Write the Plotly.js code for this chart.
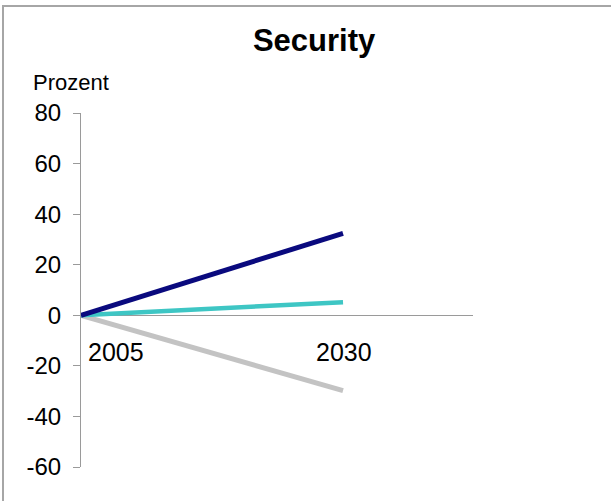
<!DOCTYPE html>
<html>
<head>
<meta charset="utf-8">
<script src="https://cdn.plot.ly/plotly-3.0.1.min.js"></script>
<style>
  html, body { margin: 0; padding: 0; background: #ffffff; }
  #wrap { position: relative; width: 611px; height: 501px; overflow: hidden; }
  #chart { position: absolute; left: 0; top: 0; width: 611px; height: 501px; }
  #frame {
    position: absolute; left: 2px; top: 5px; right: -4px; bottom: -4px;
    border-top: 2px solid #a6a6a6; border-left: 2px solid #a6a6a6;
    pointer-events: none;
  }
</style>
</head>
<body>
<div id="wrap">
  <div id="chart"></div>
  <div id="frame"></div>
</div>
<script>
// Change relative to 2005, in percent
const years = [2005, 2030];
const yearLabels = ['2005', '2030'];
const seriesHigh = [0, 32.4];
const seriesMid = [0, 5.2];
const seriesLow = [0, -29.8];

const yTicks = [-60, -40, -20, 0, 20, 40, 60, 80];

const font = 'Liberation Sans, Arial, sans-serif';

const traces = [
  { x: years, y: seriesLow, mode: 'lines', line: { color: '#c3c3c3', width: 5 }, hoverinfo: 'skip' },
  { x: years, y: seriesMid, mode: 'lines', line: { color: '#3ec6c4', width: 4.5 }, hoverinfo: 'skip' },
  { x: years, y: seriesHigh, mode: 'lines', line: { color: '#0a0a7e', width: 5 }, hoverinfo: 'skip' }
];

const annotations = yearLabels.map((t, i) => ({
  x: years[i], y: 0, xref: 'x', yref: 'y', text: t, showarrow: false,
  xanchor: 'center', yanchor: 'middle',
  xshift: i === 0 ? 35 : 1, yshift: -37,
  font: { family: font, size: 25, color: '#000000' }
}));

annotations.push({
  xref: 'paper', yref: 'paper', x: -0.127, y: 1.085,
  xanchor: 'left', yanchor: 'middle', text: 'Prozent', showarrow: false,
  font: { family: font, size: 22, color: '#000000' }
});

const layout = {
  width: 611, height: 501,
  margin: { l: 81, r: 138, t: 113, b: 34 },
  paper_bgcolor: '#ffffff', plot_bgcolor: '#ffffff',
  showlegend: false,
  title: {
    text: '<b>Security</b>',
    x: 0.514, xref: 'container', xanchor: 'center',
    y: 0.92, yref: 'container', yanchor: 'middle',
    font: { family: font, size: 31, color: '#000000' }
  },
  xaxis: {
    range: [2005, 2042.4], showline: false, showgrid: false, zeroline: false,
    showticklabels: false, ticks: '', fixedrange: true
  },
  yaxis: {
    range: [-60, 80], tickvals: yTicks, ticktext: yTicks.map(String),
    showline: true, linecolor: '#9a9a9a', linewidth: 1,
    ticks: 'outside', ticklen: 7, tickcolor: '#9a9a9a', tickwidth: 1,
    ticklabelstandoff: 7,
    showgrid: false, zeroline: true, zerolinecolor: '#9a9a9a', zerolinewidth: 1,
    tickfont: { family: font, size: 24, color: '#000000' }, fixedrange: true
  },
  annotations: annotations
};

Plotly.newPlot('chart', traces, layout, { displayModeBar: false, staticPlot: true });
</script>
</body>
</html>
